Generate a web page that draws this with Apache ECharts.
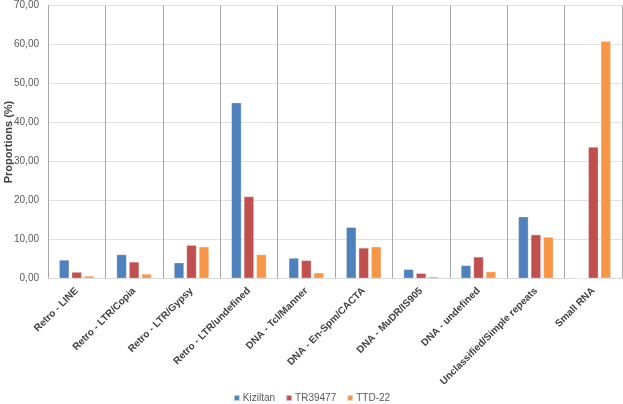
<!DOCTYPE html>
<html>
<head>
<meta charset="utf-8">
<script src="https://cdn.jsdelivr.net/npm/echarts@6/dist/echarts.min.js"></script>
<style>
  html, body { margin: 0; padding: 0; background: #fff; }
  #chart { width: 623px; height: 404px; }
</style>
</head>
<body>
<div id="chart"></div>
<script>
const categories = [
  'Retro - LINE', 'Retro - LTR/Copia', 'Retro - LTR/Gypsy', 'Retro - LTR/undefined',
  'DNA - Tcl/Manner', 'DNA - En-Spm/CACTA', 'DNA - MuDR/IS905', 'DNA - undefined',
  'Unclassified/Simple repeats', 'Small RNA'
];
const kiziltan = [4.7, 6.1, 4.0, 45.1, 5.2, 13.1, 2.3, 3.3, 15.8, 0];
const tr39477 = [1.6, 4.2, 8.5, 21.0, 4.6, 7.8, 1.3, 5.5, 11.2, 33.7];
const ttd22 = [0.6, 1.1, 8.1, 6.1, 1.4, 8.1, 0.4, 1.7, 10.6, 60.9];

const chart = echarts.init(document.getElementById('chart'));

const barSeries = (name, data, color) => ({
  name,
  type: 'bar',
  data,
  barWidth: 10,
  barGap: '25%',
  itemStyle: { color, borderColor: 'rgba(255,255,255,0.6)', borderWidth: 0.5 },
});

chart.setOption({
  animation: false,
  textStyle: { fontFamily: 'Liberation Sans, Arial, sans-serif' },
  grid: { left: 48, right: 1, top: 5.7, bottom: 125.7, outerBoundsMode: 'none' },
  legend: {
    top: 388,
    left: 'center',
    itemWidth: 6,
    itemHeight: 6,
    itemGap: 10,
    icon: 'rect',
    textStyle: { color: '#595959', fontSize: 10, padding: [0, 0, 0, -2] },
  },
  xAxis: {
    type: 'category',
    data: categories,
    axisLine: { lineStyle: { color: '#d9d9d9' } },
    axisTick: { show: false },
    axisLabel: {
      interval: 0,
      rotate: 45,
      color: '#404040',
      fontWeight: 'bold',
      fontSize: 10,
      margin: 11,
    },
    splitLine: { show: true, interval: 0, lineStyle: { color: '#a6a6a6', width: 1 } },
  },
  yAxis: {
    type: 'value',
    min: 0,
    max: 70,
    interval: 10,
    name: 'Proportions (%)',
    nameLocation: 'middle',
    nameGap: 34,
    nameMoveOverlap: false,
    nameTextStyle: { color: '#404040', fontWeight: 'bold', fontSize: 11 },
    axisLine: { show: true, lineStyle: { color: '#a6a6a6' } },
    axisTick: { show: false },
    axisLabel: {
      color: '#595959',
      fontSize: 10,
      margin: 9,
      formatter: (v) => v.toFixed(2).replace('.', ','),
    },
    splitLine: { lineStyle: { color: '#e0e0e0' } },
  },
  series: [
    barSeries('Kiziltan', kiziltan, '#4f81bd'),
    barSeries('TR39477', tr39477, '#c0504d'),
    barSeries('TTD-22', ttd22, '#f79646'),
  ],
});
</script>
</body>
</html>
